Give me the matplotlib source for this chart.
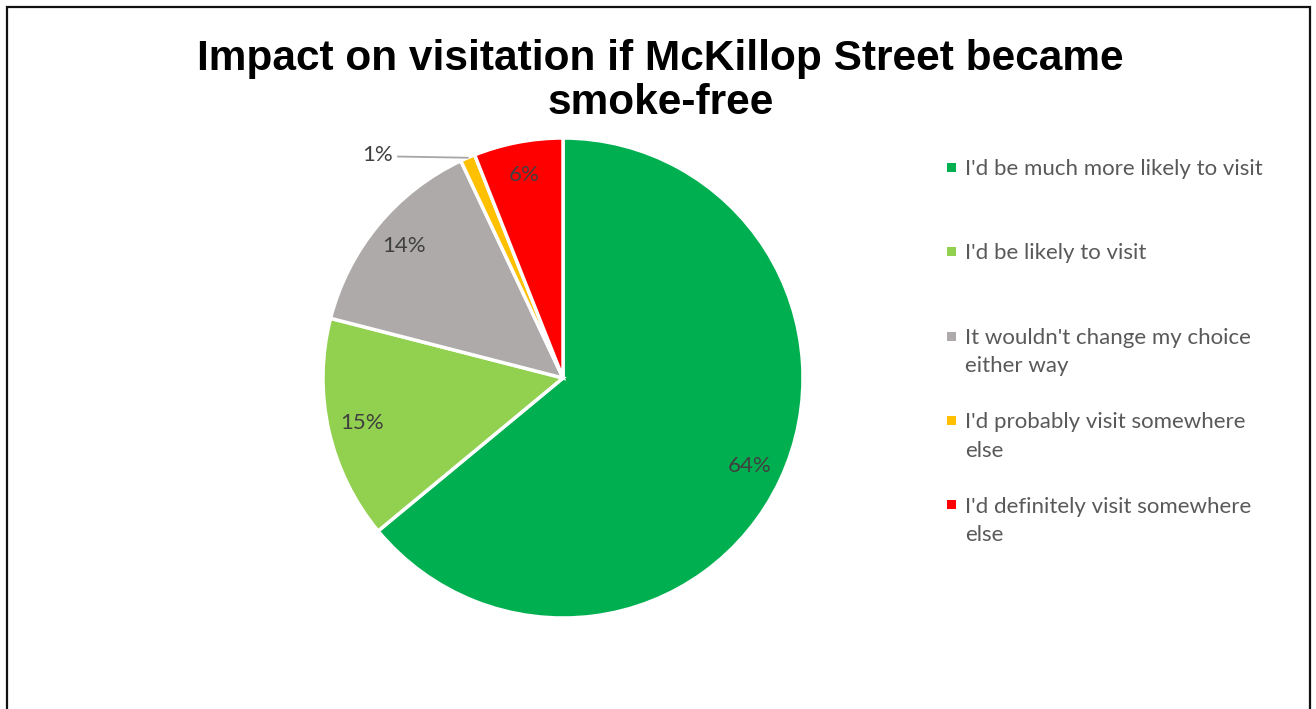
import numpy as np
import matplotlib.pyplot as plt
from matplotlib.patches import Rectangle

# survey answers, share of respondents (%)
answers = [
    "I'd be much more likely to visit",
    "I'd be likely to visit",
    "It wouldn't change my choice\neither way",
    "I'd probably visit somewhere\nelse",
    "I'd definitely visit somewhere\nelse",
]
shares = [64, 15, 14, 1, 6]
colours = ["#00B050", "#92D050", "#AEAAAA", "#FFC000", "#FF0000"]

W, H = 1316, 709
fig = plt.figure(figsize=(W / 100, H / 100), dpi=100)

# outer chart border (runs off the bottom edge)
fig.patches.append(Rectangle((7 / W, -0.05), 1303 / W, 1.05 - 7 / H,
                             transform=fig.transFigure, fill=False,
                             edgecolor="#111111", linewidth=1.6))

fig.text(0.502, 1 - 81 / H, "Impact on visitation if McKillop Street became\nsmoke-free",
         ha="center", va="center", fontsize=30.5, fontweight="bold",
         family="Liberation Sans", linespacing=1.13)

cx, cy, r = 563, 378, 240
ax = fig.add_axes([(cx - r) / W, (H - cy - r) / H, 2 * r / W, 2 * r / H])
wedges, texts, autotexts = ax.pie(
    shares, colors=colours, startangle=90, counterclock=False,
    autopct="%d%%", pctdistance=0.86,
    wedgeprops=dict(edgecolor="white", linewidth=2.5),
    textprops=dict(color="#404040", fontsize=16, family="Lato"))
ax.set_xlim(-1, 1)
ax.set_ylim(-1, 1)

# the 1% slice is too thin for its label: pull it out with a leader line
small = shares.index(1)
w = wedges[small]
mid = np.deg2rad((w.theta1 + w.theta2) / 2)
ex, ey = np.cos(mid), np.sin(mid)
lx = ex - 0.29
ax.plot([ex, lx], [ey, ey + 0.005], color="#A6A6A6", lw=1.3, clip_on=False)
autotexts[small].set_position((lx - 0.02, ey + 0.01))
autotexts[small].set_ha("right")
autotexts[small].set_va("center")

# legend: evenly pitched rows, wrapped labels keep their row start
row0, pitch, line_h = 175, 84.25, 29
sq = 9
for i, (label, c) in enumerate(zip(answers, colours)):
    base = row0 + i * pitch
    nlines = label.count("\n") + 1
    fig.patches.append(Rectangle((947 / W, (H - base + 3) / H), sq / W, sq / H,
                                 transform=fig.transFigure, facecolor=c,
                                 edgecolor="none"))
    # baseline alignment anchors on the last line of a wrapped label
    fig.text(965 / W, (H - base - (nlines - 1) * line_h) / H, label,
             ha="left", va="baseline", fontsize=16, family="Lato",
             color="#595959", linespacing=1.52)

fig.savefig("out.png", dpi=100, facecolor="white")
